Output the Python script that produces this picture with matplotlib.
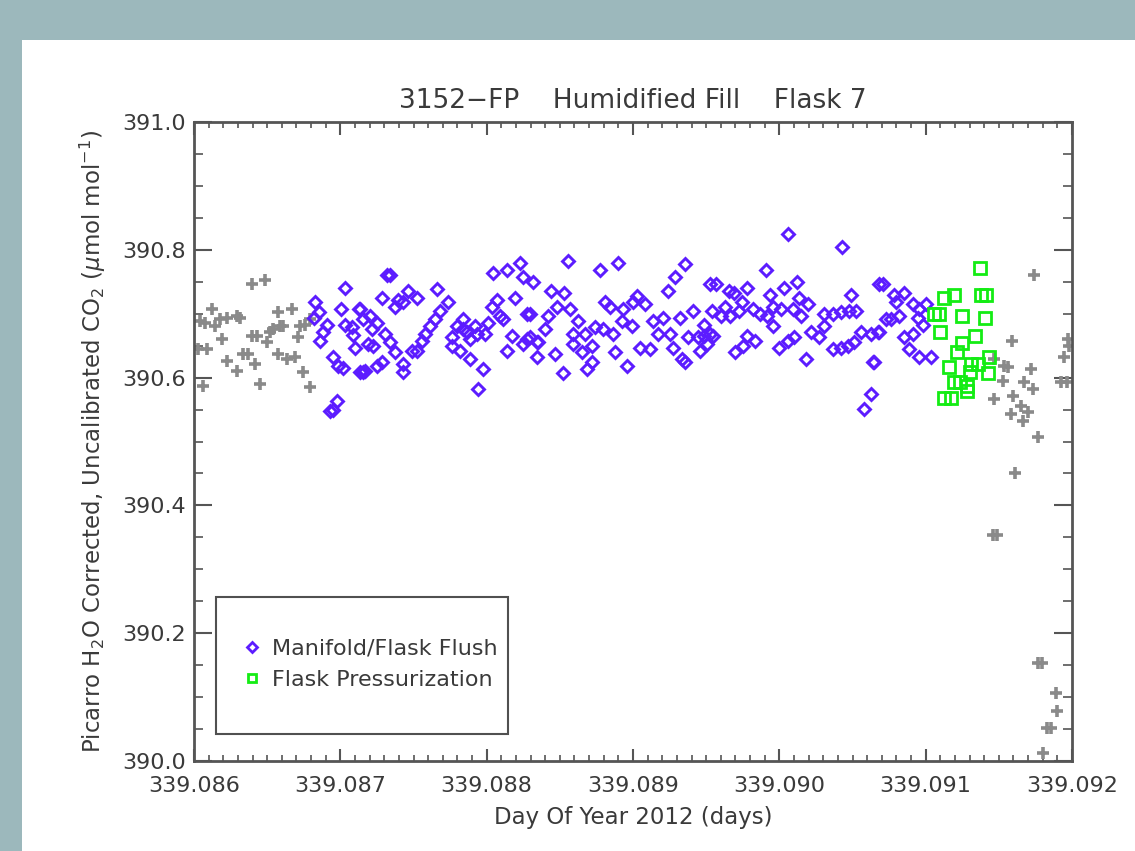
import matplotlib
matplotlib.use("Agg")
import matplotlib.pyplot as plt
from matplotlib.patches import Rectangle
from matplotlib.lines import Line2D
from matplotlib.ticker import MultipleLocator, FormatStrFormatter

# gray crosses: before and after the flask sequence
other_t = [339.086397, 339.086486, 339.086123, 339.086041, 339.086075, 339.086144, 339.086178,
           339.086226, 339.086294, 339.086315, 339.086192, 339.086027, 339.086089, 339.086062,
           339.086226, 339.086294, 339.086335, 339.086369, 339.086417, 339.086451, 339.086397,
           339.086431, 339.086499, 339.086520, 339.086575, 339.086670, 339.086588, 339.086540,
           339.086609, 339.086575, 339.086636, 339.086691, 339.086746, 339.086793, 339.086711,
           339.086725, 339.086759, 339.086793,
           339.091739, 339.091588, 339.091978, 339.091944, 339.091465, 339.091534, 339.091561,
           339.091718, 339.091527, 339.091670, 339.091732, 339.091923, 339.091465, 339.091595,
           339.091650, 339.091581, 339.091698, 339.091664, 339.091766, 339.091609, 339.091458,
           339.091486, 339.091766, 339.091794, 339.091889, 339.091896, 339.091827, 339.091855,
           339.091800, 339.091964, 339.091971]
other_v = [390.746, 390.753, 390.708, 390.688, 390.686, 390.680, 390.691,
           390.694, 390.696, 390.694, 390.660, 390.644, 390.644, 390.587,
           390.626, 390.610, 390.637, 390.637, 390.621, 390.590, 390.665,
           390.665, 390.655, 390.671, 390.702, 390.707, 390.680, 390.676,
           390.680, 390.637, 390.629, 390.633, 390.608, 390.585, 390.663,
           390.680, 390.683, 390.691,
           390.760, 390.658, 390.649, 390.632, 390.629, 390.618, 390.616,
           390.613, 390.594, 390.593, 390.582, 390.593, 390.566, 390.571,
           390.555, 390.543, 390.546, 390.532, 390.507, 390.451, 390.353,
           390.353, 390.154, 390.154, 390.106, 390.078, 390.051, 390.051,
           390.012, 390.593, 390.660]

# blue diamonds: manifold / flask flush
flush_t = [339.087033, 339.086828, 339.086855, 339.086821, 339.086910, 339.086882, 339.086862,
           339.087005, 339.087129, 339.087156, 339.087033, 339.087081, 339.087088, 339.087101,
           339.087190, 339.086951, 339.086985, 339.087019, 339.087135, 339.087156, 339.086978,
           339.086930, 339.086951,
           339.087320, 339.087341, 339.087286, 339.087464, 339.087395, 339.087375, 339.087430,
           339.087525, 339.087662, 339.087737, 339.087683, 339.087648, 339.087614, 339.087580,
           339.087560, 339.087491, 339.087525, 339.087135, 339.087204, 339.087252, 339.087218,
           339.087306, 339.087341, 339.087224, 339.087375, 339.087170, 339.087252, 339.087286,
           339.087430, 339.087430, 339.087765, 339.087799, 339.087840, 339.087867, 339.087922,
           339.087888, 339.087936, 339.087990, 339.088011, 339.088073, 339.088038, 339.088093,
           339.088114, 339.088196, 339.088278, 339.088045, 339.088141, 339.088230, 339.088250,
           339.088319, 339.087819, 339.087888, 339.087977, 339.087943, 339.088175, 339.088278,
           339.088346, 339.088250, 339.088141, 339.088346, 339.087765, 339.087840,
           339.088558, 339.088777, 339.088900, 339.088442, 339.088531, 339.088483, 339.088572,
           339.088421, 339.088298, 339.088401, 339.088627, 339.088592, 339.088674, 339.088743,
           339.088798, 339.088866, 339.088592, 339.088654, 339.088722, 339.088353, 339.088298,
           339.088469, 339.088524, 339.088688, 339.088722, 339.088880, 339.088962, 339.088811,
           339.088845, 339.088934, 339.089003, 339.089030, 339.089085, 339.088928, 339.088996,
           339.089140, 339.089208, 339.089051, 339.089119, 339.089174, 339.089256, 339.089242,
           339.089290, 339.089358, 339.089324, 339.089413, 339.089482, 339.089379, 339.089447,
           339.089529, 339.089276, 339.089338, 339.089358, 339.089461, 339.089529,
           339.090056, 339.090425, 339.089906, 339.090118, 339.090029, 339.089933, 339.089782,
           339.089564, 339.089653, 339.089687, 339.089748, 339.090131, 339.090193, 339.090487,
           339.090679, 339.089543, 339.089632, 339.089598, 339.089666, 339.089721, 339.089817,
           339.089871, 339.089919, 339.089960, 339.090008, 339.090090, 339.090145, 339.089960,
           339.089482, 339.089550, 339.089509, 339.089782, 339.089837, 339.089755, 339.089700,
           339.089995, 339.090056, 339.090097, 339.090179, 339.090213, 339.090268, 339.090302,
           339.090364, 339.090419, 339.090473, 339.090521, 339.090302, 339.090364, 339.090419,
           339.090467, 339.090508, 339.090555, 339.090624, 339.090679, 339.090638, 339.090624,
           339.090576,
           339.090706, 339.090781, 339.090850, 339.090795, 339.090911, 339.090952, 339.091000,
           339.090815, 339.090761, 339.090726, 339.090945, 339.090980, 339.090672, 339.090850,
           339.090911, 339.090884, 339.090952, 339.091034, 339.090644]
flush_v = [390.740, 390.718, 390.702, 390.693, 390.682, 390.671, 390.658,
           390.707, 390.708, 390.691, 390.683, 390.679, 390.666, 390.647,
           390.652, 390.633, 390.618, 390.615, 390.608, 390.608, 390.563,
           390.548, 390.549,
           390.761, 390.761, 390.725, 390.735, 390.722, 390.711, 390.718,
           390.725, 390.738, 390.718, 390.704, 390.691, 390.680, 390.668,
           390.657, 390.641, 390.641, 390.707, 390.696, 390.686, 390.676,
           390.668, 390.655, 390.649, 390.640, 390.610, 390.618, 390.624,
           390.621, 390.608, 390.663, 390.680, 390.691, 390.672, 390.680,
           390.660, 390.668, 390.668, 390.686, 390.722, 390.711, 390.696,
           390.691, 390.724, 390.699, 390.764, 390.769, 390.780, 390.758,
           390.750, 390.641, 390.629, 390.613, 390.582, 390.665, 390.660,
           390.655, 390.652, 390.641, 390.633, 390.649, 390.676,
           390.783, 390.769, 390.779, 390.735, 390.733, 390.711, 390.707,
           390.696, 390.699, 390.676, 390.688, 390.668, 390.668, 390.679,
           390.676, 390.668, 390.652, 390.640, 390.649, 390.655, 390.663,
           390.637, 390.607, 390.613, 390.624, 390.640, 390.618, 390.719,
           390.710, 390.707, 390.718, 390.727, 390.715, 390.688, 390.680,
           390.688, 390.694, 390.647, 390.644, 390.668, 390.668, 390.735,
           390.758, 390.777, 390.694, 390.704, 390.683, 390.663, 390.663,
           390.668, 390.647, 390.629, 390.624, 390.641, 390.746,
           390.825, 390.805, 390.769, 390.750, 390.741, 390.730, 390.741,
           390.746, 390.735, 390.733, 390.719, 390.725, 390.715, 390.730,
           390.746, 390.704, 390.710, 390.696, 390.696, 390.704, 390.707,
           390.699, 390.696, 390.710, 390.707, 390.707, 390.696, 390.680,
           390.665, 390.665, 390.652, 390.665, 390.657, 390.649, 390.640,
           390.647, 390.657, 390.663, 390.629, 390.672, 390.663, 390.699,
           390.699, 390.702, 390.704, 390.704, 390.680, 390.644, 390.647,
           390.649, 390.655, 390.671, 390.668, 390.671, 390.624, 390.574,
           390.551,
           390.746, 390.730, 390.733, 390.718, 390.715, 390.707, 390.715,
           390.696, 390.691, 390.691, 390.694, 390.683, 390.671, 390.663,
           390.668, 390.644, 390.633, 390.632, 390.624]

# green squares: flask pressurization
press_t = [339.091369, 339.091123, 339.091192, 339.091376, 339.091410, 339.091055, 339.091089,
           339.091246, 339.091404, 339.091096, 339.091335, 339.091246, 339.091212, 339.091431,
           339.091308, 339.091356, 339.091157, 339.091424, 339.091301, 339.091192, 339.091233,
           339.091280, 339.091280, 339.091123, 339.091171]
press_v = [390.772, 390.725, 390.729, 390.729, 390.729, 390.700, 390.700,
           390.697, 390.693, 390.671, 390.665, 390.654, 390.640, 390.632,
           390.622, 390.622, 390.616, 390.607, 390.608, 390.593, 390.593,
           390.587, 390.579, 390.568, 390.568]

blue = '#5c1cff'
green = '#14ec14'
gray = '#8a8a8a'
ink = '#3a3a3a'

plt.rcParams['font.family'] = ['DejaVu Sans']
plt.rcParams['font.size'] = 16

fig = plt.figure(figsize=(11.35, 8.51), dpi=100)
fig.patch.set_facecolor('#9cb8bc')
fig.patches.append(Rectangle((22 / 1135, 0), 1, 1 - 40 / 851, transform=fig.transFigure,
                             facecolor='white', edgecolor='none', zorder=-1))

ax = fig.add_axes([194 / 1135, 90 / 851, 878 / 1135, 639 / 851])
ax.set_zorder(1)
ax.set_facecolor('white')

ax.plot(other_t, other_v, '+', color=gray, ms=8.5, mew=2.6, ls='none')
ax.plot(flush_t, flush_v, 'D', mfc='none', mec=blue, ms=6.5, mew=2.1, ls='none')
ax.plot(press_t, press_v, 's', mfc='none', mec=green, ms=8, mew=2.0, ls='none')

ax.set_xlim(339.086, 339.092)
ax.set_ylim(390.0, 391.0)
ax.xaxis.set_major_locator(MultipleLocator(0.001))
ax.xaxis.set_minor_locator(MultipleLocator(0.0001))
ax.yaxis.set_major_locator(MultipleLocator(0.2))
ax.yaxis.set_minor_locator(MultipleLocator(0.05))
ax.xaxis.set_major_formatter(FormatStrFormatter('%.3f'))
ax.yaxis.set_major_formatter(FormatStrFormatter('%.1f'))

for sp in ax.spines.values():
    sp.set_color('#555555')
    sp.set_linewidth(2.0)

ax.tick_params(axis='x', which='major', direction='in', length=9, width=1.5,
               top=True, colors='#555555', labelcolor=ink, labelsize=16, pad=11)
ax.tick_params(axis='x', which='minor', direction='in', length=4, width=1.2,
               top=True, colors='#555555')
ax.tick_params(axis='y', which='major', direction='in', length=13, width=1.5,
               right=True, colors='#555555', labelcolor=ink, labelsize=16, pad=6)
ax.tick_params(axis='y', which='minor', direction='in', length=6.5, width=1.2,
               right=True, colors='#555555')

ax.set_title('3152\u2212FP    Humidified Fill    Flask 7', color=ink, fontsize=19, pad=10)
ax.set_xlabel('Day Of Year 2012 (days)', color=ink, fontsize=16.5, labelpad=7)
ax.set_ylabel('Picarro H$_2$O Corrected, Uncalibrated CO$_2$ ($\\mu$mol mol$^{-1}$)',
              color=ink, fontsize=16.5, labelpad=10)

# legend box
ax.add_patch(Rectangle((0.025, 0.042), 0.333, 0.215, transform=ax.transAxes,
                       facecolor='white', edgecolor='#505050', lw=1.5, zorder=5))
handles = [Line2D([], [], marker='D', mfc='none', mec=blue, ms=5, mew=2.0, ls='none'),
           Line2D([], [], marker='s', mfc='none', mec=green, ms=6, mew=2.0, ls='none')]
leg = ax.legend(handles, ['Manifold/Flask Flush', 'Flask Pressurization'],
                loc='upper left', bbox_to_anchor=(0.047, 0.205), frameon=False,
                handlelength=0.7, handletextpad=0.55, labelspacing=0.5, fontsize=16,
                borderaxespad=0)
leg.set_zorder(6)
for t in leg.get_texts():
    t.set_color(ink)

fig.savefig('out.png', dpi=100, facecolor=fig.get_facecolor())
